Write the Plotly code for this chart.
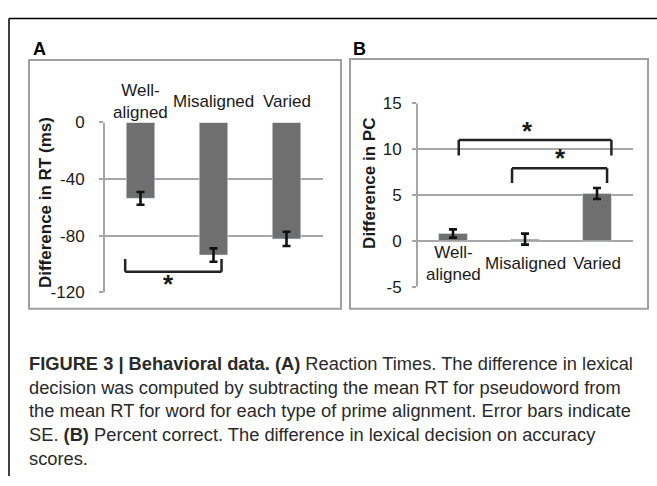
import plotly.graph_objects as go

# --- data ---
categories = ["Well-aligned", "Misaligned", "Varied"]
cat_labels = ["Well-<br>aligned", "Misaligned", "Varied"]

rt_diff = [-53.6, -93.6, -82.2]
rt_se = [4.5, 4.7, 5.0]
rt_ticks = [-120, -80, -40, 0]
rt_ticktext = ["-120", "-80", "-40", "0"]

pc_diff = [0.8, 0.18, 5.15]
pc_se = [0.45, 0.6, 0.6]
pc_ticks = [-5, 0, 5, 10, 15]
pc_ticktext = ["-5", "0", "5", "10", "15"]

# significance brackets: start, end (category index), level, tip end, star position
sig_a = [dict(x0=-0.21, x1=1.11, y=-105.3, tip=-96.3, sx=0.39, sy=-114)]
sig_b = [dict(x0=0.08, x1=2.2, y=11.0, tip=9.3, sx=1.03, sy=12.0),
         dict(x0=0.82, x1=2.14, y=7.9, tip=6.3, sx=1.49, sy=9.0)]

W, H = 657, 486
FONT = "Liberation Sans, Arial, sans-serif"
BAR = "#6f6f6f"
GRID = "#a6a6a6"


def px(x):
    return x / W


def py(y):
    return 1 - y / H


fig = go.Figure()

fig.add_trace(go.Bar(
    x=categories, y=rt_diff, xaxis="x", yaxis="y", marker_color=BAR, width=0.39,
    error_y=dict(type="data", array=rt_se, color="#111111", thickness=2.6, width=4),
))
fig.add_trace(go.Bar(
    x=categories, y=pc_diff, xaxis="x2", yaxis="y2", marker_color=BAR, width=0.4,
    error_y=dict(type="data", array=pc_se, color="#111111", thickness=2.6, width=4),
))

axis_common = dict(
    showgrid=True, gridcolor=GRID, gridwidth=2,
    showline=False, zeroline=False,
    ticks="outside", ticklen=4, tickwidth=2, tickcolor=GRID,
    tickfont=dict(family=FONT, size=17, color="#1a1a1a"),
)

fig.update_layout(
    width=W, height=H,
    margin=dict(l=0, r=0, t=0, b=0),
    paper_bgcolor="white", plot_bgcolor="white",
    showlegend=False,
    xaxis=dict(domain=[px(104), px(323)], showticklabels=False, showgrid=False,
               zeroline=False, showline=False, ticks=""),
    yaxis=dict(domain=[py(295), py(118)], range=[-120, 0], tickvals=rt_ticks,
               ticktext=rt_ticktext, ticklabelstandoff=11, **axis_common),
    xaxis2=dict(domain=[px(417), px(633)], showticklabels=False, showgrid=False,
                zeroline=False, showline=False, ticks="", anchor="y2"),
    yaxis2=dict(domain=[py(289), py(98)], range=[-5, 15], tickvals=pc_ticks,
                ticktext=pc_ticktext, anchor="x2", ticklabelstandoff=7, **axis_common),
)

# vertical axis lines (drawn as shapes so they span exactly the plot range)
shapes = []
for xr, yr, lo, hi in [("x", "y", -120, 0), ("x2", "y2", -5, 15)]:
    shapes.append(dict(type="line", xref=xr + " domain", yref=yr, x0=0, x1=0, y0=lo, y1=hi,
                       line=dict(color=GRID, width=2)))

# panel frames
shapes.append(dict(type="rect", xref="paper", yref="paper", x0=px(29), x1=px(341),
                   y0=py(312), y1=py(53), line=dict(color="#a0a0a0", width=2)))
shapes.append(dict(type="rect", xref="paper", yref="paper", x0=px(350), x1=px(648),
                   y0=py(312), y1=py(52), line=dict(color="#a0a0a0", width=2)))
# outer black rules
shapes.append(dict(type="line", xref="paper", yref="paper", x0=px(9), x1=1,
                   y0=py(10), y1=py(10), line=dict(color="black", width=1.5)))
shapes.append(dict(type="line", xref="paper", yref="paper", x0=px(9), x1=px(9),
                   y0=0, y1=py(10), line=dict(color="black", width=1.5)))

annotations = []


def add_brackets(sigs, xr, yr):
    for s in sigs:
        ln = dict(color="#222222", width=2.5)
        shapes.append(dict(type="line", xref=xr, yref=yr, x0=s["x0"], x1=s["x1"],
                           y0=s["y"], y1=s["y"], line=ln))
        for xe in (s["x0"], s["x1"]):
            shapes.append(dict(type="line", xref=xr, yref=yr, x0=xe, x1=xe,
                               y0=s["y"], y1=s["tip"], line=ln))
        annotations.append(dict(x=s["sx"], y=s["sy"], xref=xr, yref=yr, text="<b>*</b>",
                                showarrow=False, yanchor="middle", yshift=0,
                                font=dict(family=FONT, size=26, color="#1a1a1a")))


add_brackets(sig_a, "x", "y")
add_brackets(sig_b, "x2", "y2")

# category labels
for c, lab in zip(categories, cat_labels):
    annotations.append(dict(x=c, xref="x", y=py(96), yref="paper", text=lab,
                            showarrow=False, yanchor="middle",
                            font=dict(family=FONT, size=17, color="#1a1a1a")))
    annotations.append(dict(x=c, xref="x2", y=py(265), yref="paper", text=lab,
                            showarrow=False, yanchor="middle",
                            font=dict(family=FONT, size=17, color="#1a1a1a")))

# axis titles
annotations.append(dict(x=px(45), y=py(202), xref="paper", yref="paper",
                        text="<b>Difference in RT (ms)</b>", textangle=-90, showarrow=False,
                        xanchor="center", yanchor="middle",
                        font=dict(family=FONT, size=17, color="#1a1a1a")))
annotations.append(dict(x=px(370), y=py(182), xref="paper", yref="paper",
                        text="<b>Difference in PC</b>", textangle=-90, showarrow=False,
                        xanchor="center", yanchor="middle",
                        font=dict(family=FONT, size=17, color="#1a1a1a")))

# panel letters
annotations.append(dict(x=px(31), y=py(42), xref="paper", yref="paper", text="<b>A</b>",
                        showarrow=False, xanchor="left", yanchor="middle",
                        font=dict(family=FONT, size=18, color="black")))
annotations.append(dict(x=px(351), y=py(42), xref="paper", yref="paper", text="<b>B</b>",
                        showarrow=False, xanchor="left", yanchor="middle",
                        font=dict(family=FONT, size=18, color="black")))

# caption
caption = [
    "<b>FIGURE 3 | Behavioral data. (A)</b> Reaction Times. The difference in lexical",
    "decision was computed by subtracting the mean RT for pseudoword from",
    "the mean RT for word for each type of prime alignment. Error bars indicate",
    "SE. <b>(B)</b> Percent correct. The difference in lexical decision on accuracy",
    "scores.",
]
for i, line in enumerate(caption):
    annotations.append(dict(x=px(27), y=py(369 + i * 24.6), xref="paper", yref="paper",
                            text=line, showarrow=False, xanchor="left", yanchor="middle",
                            font=dict(family=FONT, size=18.3, color="#2a2a2a")))

fig.update_layout(shapes=shapes, annotations=annotations)

# page body has a default margin; drop it so the figure sits at the window origin
fig.write_html("out.html", config={"displayModeBar": False},
               post_script="document.body.style.margin='0';")
